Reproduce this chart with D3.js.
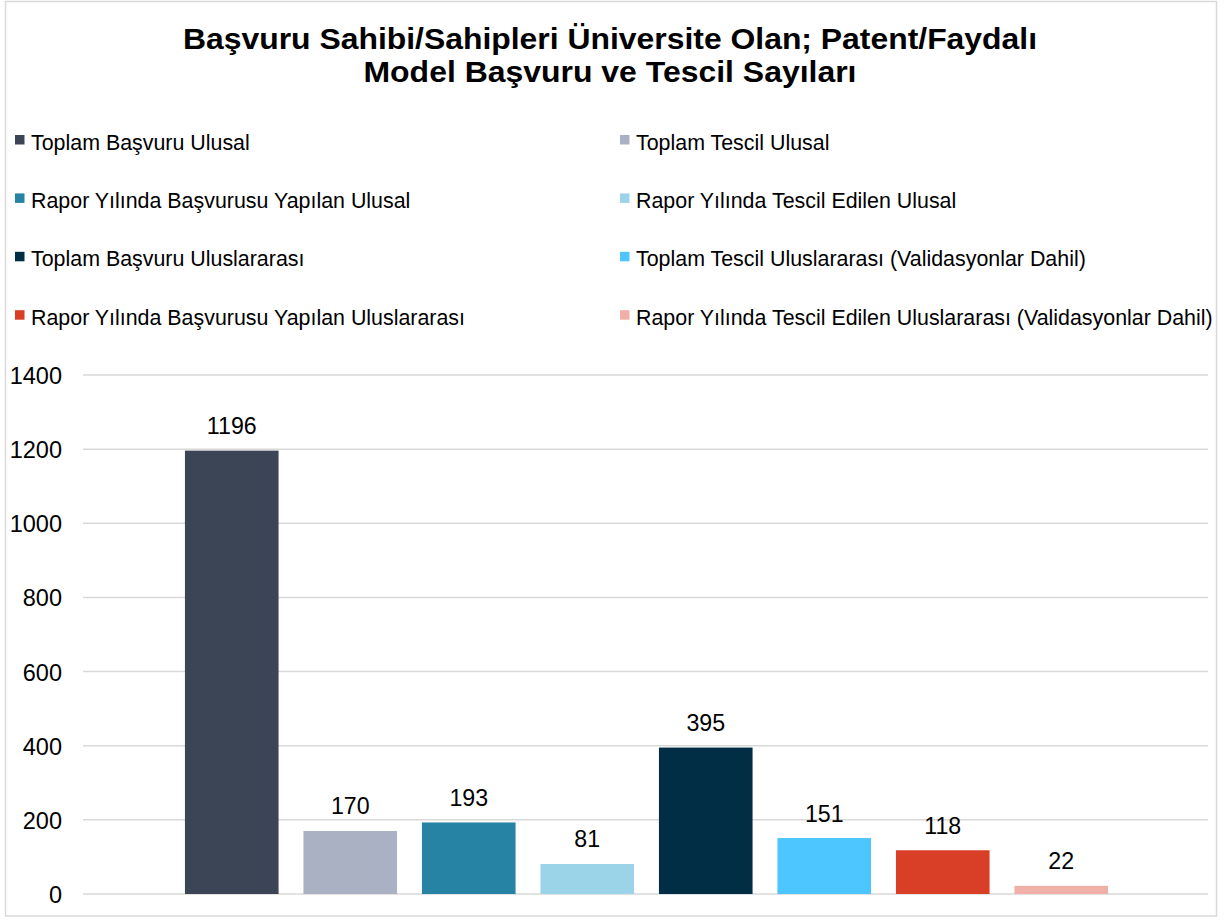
<!DOCTYPE html>
<html><head><meta charset="utf-8">
<script src="https://cdn.jsdelivr.net/npm/d3@7"></script>
<style>body{margin:0;background:#fff}svg{display:block}</style>
</head><body>
<script>
const titleLines = ["Başvuru Sahibi/Sahipleri Üniversite Olan; Patent/Faydalı", "Model Başvuru ve Tescil Sayıları"];
const seriesNames = [
  "Toplam Başvuru Ulusal",
  "Toplam Tescil Ulusal",
  "Rapor Yılında Başvurusu Yapılan Ulusal",
  "Rapor Yılında Tescil Edilen Ulusal",
  "Toplam Başvuru Uluslararası",
  "Toplam Tescil Uluslararası (Validasyonlar Dahil)",
  "Rapor Yılında Başvurusu Yapılan Uluslararası",
  "Rapor Yılında Tescil Edilen Uluslararası (Validasyonlar Dahil)"
];
const seriesValues = [1196, 170, 193, 81, 395, 151, 118, 22];
const seriesColors = ["#3B4556", "#A9B1C2", "#2683A3", "#9BD4E8", "#022E45", "#4DC6FF", "#D93E27", "#F0B0A8"];
const yTicks = [0, 200, 400, 600, 800, 1000, 1200, 1400];

const W = 1225, H = 921;
const svg = d3.select("body").append("svg").attr("width", W).attr("height", H);
const font = "Liberation Sans, Arial, sans-serif";

svg.append("rect").attr("x", 5.5).attr("y", 1.5).attr("width", 1211).attr("height", 914.5)
  .attr("fill", "#fff").attr("stroke", "#D9D9D9").attr("stroke-width", 1.5);

// Title
const titleWidths = [854, 493];
svg.append("g").selectAll("text").data(titleLines).join("text")
  .attr("x", 610).attr("y", (d, i) => 49.3 + i * 33)
  .attr("text-anchor", "middle").attr("font-family", font).attr("font-weight", "bold")
  .attr("font-size", 29).attr("fill", "#000")
  .attr("textLength", (d, i) => titleWidths[i]).attr("lengthAdjust", "spacingAndGlyphs")
  .text(d => d);

// Legend
const leg = svg.append("g");
seriesNames.forEach((n, i) => {
  const col = i % 2, row = Math.floor(i / 2);
  const x = col === 0 ? 15 : 620;
  const yb = 149.5 + row * 58.4;
  leg.append("rect").attr("x", x).attr("y", yb - 14.5).attr("width", 9.5).attr("height", 9.5).attr("fill", seriesColors[i]);
  leg.append("text").attr("x", x + 16).attr("y", yb).attr("font-family", font).attr("font-size", 21.4)
    .attr("fill", "#000").text(n);
});

// Scales
const y = d3.scaleLinear().domain([0, 1400]).range([894, 375]);
const x = d3.scaleBand().domain(seriesNames).range([172.5, 1120.5]).paddingInner(0.21).paddingOuter(0.105);

// Gridlines
svg.append("g").selectAll("line").data(yTicks).join("line")
  .attr("x1", 83).attr("x2", 1208).attr("y1", d => y(d)).attr("y2", d => y(d))
  .attr("stroke", "#D9D9D9").attr("stroke-width", 1.5);

// Y axis
const yAxis = d3.axisLeft(y).tickValues(yTicks).tickFormat(d3.format("d")).tickSize(0).tickPadding(0);
const ga = svg.append("g").attr("transform", "translate(62,0)").call(yAxis);
ga.select(".domain").remove();
ga.selectAll("text").attr("font-family", font).attr("font-size", 23.5).attr("fill", "#000").attr("dy", "0.36em");

// Bars
svg.append("g").selectAll("rect").data(seriesValues).join("rect")
  .attr("x", (d, i) => x(seriesNames[i])).attr("width", x.bandwidth())
  .attr("y", d => y(d)).attr("height", d => y(0) - y(d))
  .attr("fill", (d, i) => seriesColors[i]);

// Labels
svg.append("g").selectAll("text").data(seriesValues).join("text")
  .attr("x", (d, i) => x(seriesNames[i]) + x.bandwidth() / 2)
  .attr("y", d => y(d) - 16.5)
  .attr("text-anchor", "middle").attr("font-family", font).attr("font-size", 23.2).attr("fill", "#000")
  .text(d => d);
</script>
</body></html>
